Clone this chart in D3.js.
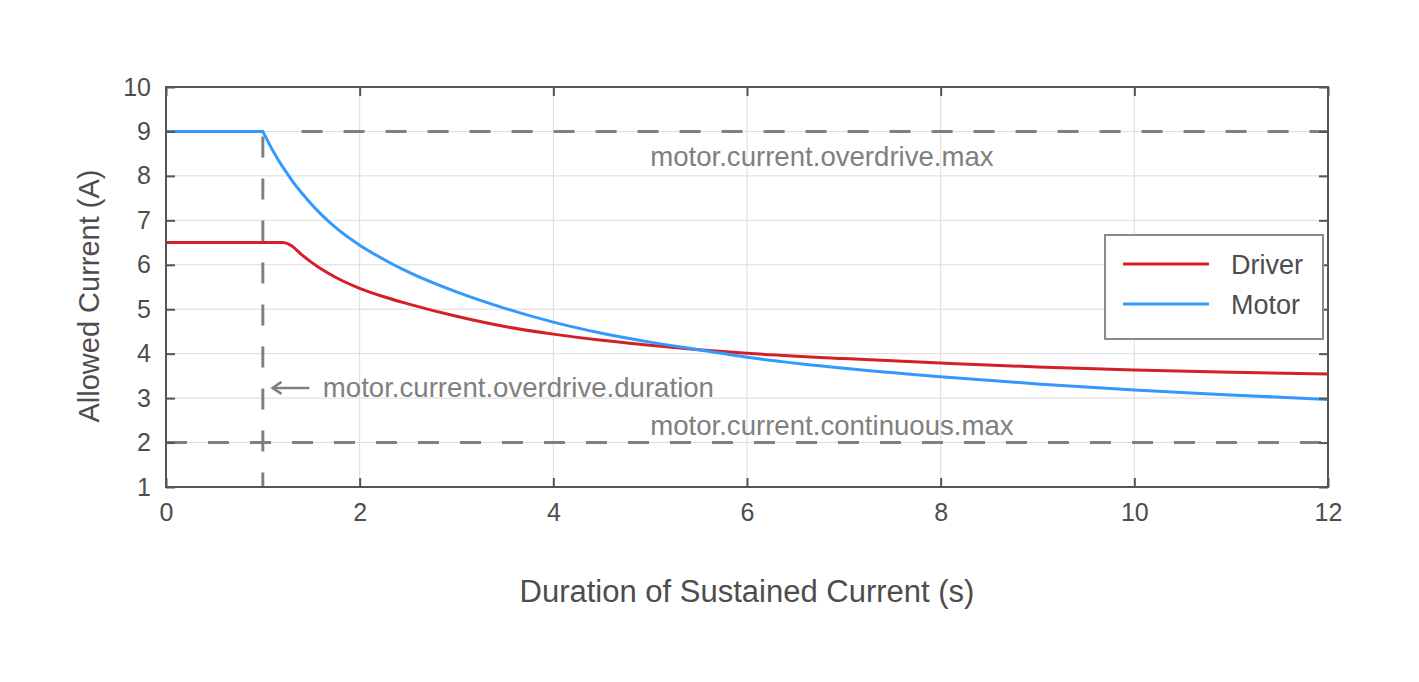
<!DOCTYPE html>
<html>
<head>
<meta charset="utf-8">
<script src="https://cdn.jsdelivr.net/npm/d3@7"></script>
<style>
  body { margin: 0; background: #fff; }
  svg { display: block; font-family: "Liberation Sans", Arial, sans-serif; }
</style>
</head>
<body>
<div id="chart"></div>
<script>
// values
const durations = [0, 1, 1.1, 1.2, 1.25, 1.3, 1.4, 1.5, 1.6, 1.75, 2, 2.25, 2.5, 3, 3.5, 4, 4.5, 5, 5.5, 6, 7, 8, 9, 10, 11, 12];
const driverCurrent = [6.5, 6.5, 6.5, 6.5, 6.48, 6.42, 6.23, 6.06, 5.91, 5.72, 5.47, 5.28, 5.12, 4.84, 4.61, 4.44, 4.3, 4.19, 4.09, 4.01, 3.89, 3.79, 3.7, 3.63, 3.58, 3.54];
const motorCurrent = [9, 9, 8.58, 8.22, 8.06, 7.9, 7.62, 7.37, 7.14, 6.84, 6.44, 6.12, 5.84, 5.39, 5.02, 4.71, 4.46, 4.26, 4.09, 3.92, 3.67, 3.48, 3.32, 3.18, 3.07, 2.97];

const seriesNames = ["Driver", "Motor"];
const seriesColors = ["#d32027", "#3399ff"];

const xTicks = [0, 2, 4, 6, 8, 10, 12];
const yTicks = [1, 2, 3, 4, 5, 6, 7, 8, 9, 10];

const overdriveMax = 9;
const continuousMax = 2;
const overdriveDuration = 1;

const W = 1419, H = 682;
const margin = { top: 87, right: 91, bottom: 195, left: 166 };
const width = W - margin.left - margin.right,
      height = H - margin.top - margin.bottom;

const svg = d3.select("#chart").append("svg")
    .attr("width", W)
    .attr("height", H);

const g = svg.append("g")
    .attr("transform", `translate(${margin.left},${margin.top})`);

const x = d3.scaleLinear().domain([0, 12]).range([0, width]);
const y = d3.scaleLinear().domain([1, 10]).range([height, 0]);

// grid
g.append("g").selectAll("line")
    .data(xTicks)
    .join("line")
    .attr("x1", d => x(d)).attr("x2", d => x(d))
    .attr("y1", 0).attr("y2", height)
    .attr("stroke", "#dcdcdc").attr("stroke-width", 1);
g.append("g").selectAll("line")
    .data(yTicks)
    .join("line")
    .attr("x1", 0).attr("x2", width)
    .attr("y1", d => y(d)).attr("y2", d => y(d))
    .attr("stroke", "#dcdcdc").attr("stroke-width", 1);

// reference lines
const refColor = "#808080";
g.append("line")
    .attr("x1", x(1.4)).attr("x2", x(12))
    .attr("y1", y(overdriveMax)).attr("y2", y(overdriveMax))
    .attr("stroke", refColor).attr("stroke-width", 3)
    .attr("stroke-dasharray", "21,21");
g.append("line")
    .attr("x1", x(0)).attr("x2", x(12))
    .attr("y1", y(continuousMax)).attr("y2", y(continuousMax))
    .attr("stroke", refColor).attr("stroke-width", 3)
    .attr("stroke-dasharray", "21,21");
g.append("line")
    .attr("x1", x(overdriveDuration)).attr("x2", x(overdriveDuration))
    .attr("y1", y(overdriveMax) + 5).attr("y2", y(1))
    .attr("stroke", refColor).attr("stroke-width", 3)
    .attr("stroke-dasharray", "21,21");

// annotations
const annot = g.append("g")
    .attr("fill", refColor)
    .attr("font-size", 27.6);
annot.append("text")
    .attr("x", x(5)).attr("y", y(8.22))
    .text("motor.current.overdrive.max");
annot.append("text")
    .attr("x", x(5)).attr("y", y(2.17))
    .text("motor.current.continuous.max");
annot.append("text")
    .attr("x", x(1.62)).attr("y", y(3.03))
    .text("motor.current.overdrive.duration");

// arrow pointing at the overdrive duration line
const arrowY = y(3.23), tipX = x(1.1), tailX = x(1.48);
g.append("line")
    .attr("x1", tailX).attr("x2", tipX)
    .attr("y1", arrowY).attr("y2", arrowY)
    .attr("stroke", refColor).attr("stroke-width", 2.5);
g.append("path")
    .attr("d", `M${tipX + 9},${arrowY - 6}L${tipX},${arrowY}L${tipX + 9},${arrowY + 6}`)
    .attr("fill", "none")
    .attr("stroke", refColor).attr("stroke-width", 2.5);

// curves: flat part straight, decay part smoothed, joined in one path
const flatLine = d3.line().x(d => x(d[0])).y(d => y(d[1]));
const decayLine = d3.line().x(d => x(d[0])).y(d => y(d[1])).curve(d3.curveMonotoneX);

[driverCurrent, motorCurrent].forEach((vals, i) => {
  const pts = durations.map((t, j) => [t, vals[j]]);
  let k = 0;
  while (k + 1 < pts.length && pts[k + 1][1] === pts[0][1]) k++;
  const d = flatLine(pts.slice(0, k + 1)) + decayLine(pts.slice(k)).replace(/^M/, "L");
  g.append("path")
      .attr("fill", "none")
      .attr("stroke", seriesColors[i])
      .attr("stroke-width", 3)
      .attr("d", d);
});

// frame and inward ticks on all sides
const axisColor = "#555";
function styleAxis(sel) {
  sel.select(".domain").remove();
  sel.selectAll(".tick line").attr("stroke", axisColor).attr("stroke-width", 2);
  sel.selectAll(".tick text")
      .attr("fill", "#4d4d4d")
      .attr("font-size", 25)
      .attr("font-family", "Liberation Sans, Arial, sans-serif");
}

g.append("g")
    .attr("transform", `translate(0,${height})`)
    .call(d3.axisBottom(x).tickValues(xTicks).tickSize(-9).tickPadding(16).tickFormat(d3.format("d")))
    .call(styleAxis);
g.append("g")
    .call(d3.axisTop(x).tickValues(xTicks).tickSize(-9).tickFormat(""))
    .call(styleAxis);
g.append("g")
    .call(d3.axisLeft(y).tickValues(yTicks).tickSize(-9).tickPadding(15).tickFormat(d3.format("d")))
    .call(styleAxis);
g.append("g")
    .attr("transform", `translate(${width},0)`)
    .call(d3.axisRight(y).tickValues(yTicks).tickSize(-9).tickFormat(""))
    .call(styleAxis);

g.append("rect")
    .attr("width", width).attr("height", height)
    .attr("fill", "none")
    .attr("stroke", axisColor).attr("stroke-width", 2);

// axis titles
svg.append("text")
    .attr("x", margin.left + width / 2)
    .attr("y", 602)
    .attr("text-anchor", "middle")
    .attr("fill", "#4d4d4d")
    .attr("font-size", 31)
    .text("Duration of Sustained Current (s)");
svg.append("text")
    .attr("transform", `translate(99,${margin.top + height / 2 + 9}) rotate(-90)`)
    .attr("text-anchor", "middle")
    .attr("fill", "#4d4d4d")
    .attr("font-size", 29)
    .text("Allowed Current (A)");

// legend
const legend = svg.append("g").attr("transform", "translate(1105,235)");
legend.append("rect")
    .attr("width", 218).attr("height", 104)
    .attr("fill", "#fff")
    .attr("stroke", "#8c8c8c").attr("stroke-width", 2);
seriesNames.forEach((name, i) => {
  const ly = 29 + i * 40;
  legend.append("line")
      .attr("x1", 18).attr("x2", 104)
      .attr("y1", ly).attr("y2", ly)
      .attr("stroke", seriesColors[i]).attr("stroke-width", 3);
  legend.append("text")
      .attr("x", 126).attr("y", ly + 10)
      .attr("fill", "#4d4d4d")
      .attr("font-size", 27)
      .text(name);
});
</script>
</body>
</html>
